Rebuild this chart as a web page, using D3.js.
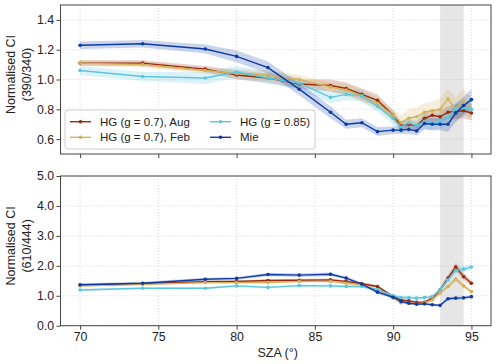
<!DOCTYPE html>
<html>
<head>
<meta charset="utf-8">
<script src="https://cdn.jsdelivr.net/npm/d3@7"></script>
<style>
  body { margin: 0; background: #fff; }
  svg { display: block; font-family: "Liberation Sans", Arial, sans-serif; }
</style>
</head>
<body>
<div class="chart"></div>
<script>
// solar zenith angles (deg)
const sza = [70,74,78,80,82,84,86,87,88,89,90,90.5,91,91.5,92,92.5,93,93.5,94,94.5,95]

// top panel: normalised CI 390/340
const augTop  = [1.11,1.11,1.07,1.03,1.01,0.97,0.96,0.94,0.90,0.86,0.76,0.69,0.70,0.69,0.74,0.76,0.75,0.78,0.785,0.79,0.775]
const febTop  = [1.11,1.10,1.06,1.04,1.03,1.00,0.95,0.93,0.89,0.84,0.76,0.71,0.74,0.75,0.78,0.79,0.80,0.87,0.80,0.86,0.80]
const hg85Top = [1.06,1.02,1.01,1.05,1.01,0.975,0.88,0.90,0.89,0.82,0.74,0.68,0.71,0.69,0.72,0.71,0.72,0.75,0.80,0.81,0.80]
const mieTop  = [1.23,1.24,1.205,1.155,1.08,0.935,0.78,0.70,0.71,0.65,0.66,0.66,0.665,0.655,0.705,0.70,0.70,0.70,0.775,0.825,0.865]
// half width of the shaded bands
const augTopSp  = [0.02,0.02,0.02,0.03,0.03,0.03,0.04,0.04,0.04,0.04,0.03,0.03,0.03,0.03,0.04,0.04,0.04,0.04,0.05,0.05,0.05]
const febTopSp  = [0.02,0.02,0.02,0.03,0.03,0.03,0.03,0.04,0.04,0.04,0.04,0.05,0.06,0.06,0.06,0.06,0.07,0.07,0.08,0.08,0.07]
const hg85TopSp = [0.03,0.03,0.04,0.04,0.04,0.04,0.04,0.04,0.04,0.04,0.04,0.04,0.04,0.04,0.05,0.05,0.05,0.05,0.05,0.05,0.05]
const mieTopSp  = [0.025,0.025,0.03,0.04,0.04,0.04,0.04,0.03,0.03,0.03,0.025,0.025,0.03,0.03,0.04,0.04,0.04,0.05,0.06,0.06,0.07]

// bottom panel: normalised CI 610/444
const augBot  = [1.35,1.40,1.47,1.48,1.51,1.52,1.53,1.48,1.40,1.31,0.97,0.86,0.83,0.78,0.78,0.92,1.20,1.59,1.96,1.64,1.42]
const febBot  = [1.33,1.38,1.44,1.44,1.44,1.48,1.48,1.42,1.37,1.20,0.92,0.77,0.75,0.73,0.76,0.86,1.09,1.31,1.56,1.33,1.14]
const hg85Bot = [1.19,1.25,1.25,1.33,1.28,1.34,1.33,1.31,1.31,1.20,1.00,0.94,0.94,0.92,0.94,0.97,1.20,1.53,1.85,1.89,1.96]
const mieBot  = [1.37,1.42,1.55,1.58,1.71,1.69,1.72,1.59,1.39,1.12,0.95,0.81,0.75,0.72,0.73,0.70,0.68,0.90,0.92,0.93,0.97]
const augBotSp  = [0.04,0.04,0.04,0.04,0.05,0.05,0.05,0.05,0.05,0.05,0.05,0.05,0.05,0.05,0.05,0.06,0.08,0.10,0.14,0.12,0.10]
const febBotSp  = [0.04,0.04,0.04,0.04,0.04,0.04,0.04,0.04,0.04,0.04,0.05,0.05,0.05,0.05,0.05,0.06,0.07,0.08,0.10,0.08,0.07]
const hg85BotSp = [0.04,0.04,0.04,0.04,0.04,0.04,0.05,0.05,0.05,0.05,0.05,0.05,0.05,0.05,0.05,0.06,0.07,0.09,0.10,0.10,0.11]
const mieBotSp  = [0.05,0.05,0.05,0.05,0.06,0.06,0.06,0.05,0.05,0.05,0.04,0.04,0.04,0.04,0.04,0.04,0.04,0.05,0.05,0.05,0.05]

const names  = ["HG (g = 0.7), Aug", "HG (g = 0.7), Feb", "HG (g = 0.85)", "Mie"]
const colors = ["#9a2a0c", "#d4b25a", "#5cc6de", "#0d3aa6"]

const topTicks = [0.6, 0.8, 1.0, 1.2, 1.4]
const botTicks = [0, 1, 2, 3, 4, 5]
const xTicks   = [70, 75, 80, 85, 90, 95]
const greySpan = [93, 94.5]

let w = 500
let h = 364
let left = 60.5, right = 491

let svg = d3.select(".chart")
  .append("svg")
  .attr("width", w)
  .attr("height", h)

const xScale = d3.scaleLinear().domain([68.75, 96.25]).range([left, right])

function panel(top, bottom, yDomain, yTicks, series, label2, showX) {
  const yScale = d3.scaleLinear().domain(yDomain).range([bottom, top])
  let g = svg.append("g")

  // dotted grid
  g.selectAll(".vgrid").data(xTicks).enter().append("line")
    .attr("x1", d => xScale(d)).attr("x2", d => xScale(d))
    .attr("y1", top).attr("y2", bottom)
    .attr("stroke", "#cfcfcf").attr("stroke-width", 0.8).attr("stroke-dasharray", "1,2")
  g.selectAll(".hgrid").data(yTicks).enter().append("line")
    .attr("x1", left).attr("x2", right)
    .attr("y1", d => yScale(d)).attr("y2", d => yScale(d))
    .attr("stroke", "#cfcfcf").attr("stroke-width", 0.8).attr("stroke-dasharray", "1,2")

  // grey span
  g.append("rect")
    .attr("x", xScale(greySpan[0])).attr("width", xScale(greySpan[1]) - xScale(greySpan[0]))
    .attr("y", top).attr("height", bottom - top)
    .attr("fill", "#808080").attr("opacity", 0.2)

  const area = d3.area()
    .x((d, i) => xScale(sza[i]))
    .y0(d => yScale(d[0] - d[1]))
    .y1(d => yScale(d[0] + d[1]))
  const line = d3.line()
    .x((d, i) => xScale(sza[i]))
    .y(d => yScale(d))

  series.forEach((s, k) => {
    g.append("path")
      .datum(s.vals.map((v, i) => [v, s.sp[i]]))
      .attr("d", area)
      .attr("fill", colors[k]).attr("opacity", 0.22)
  })
  series.forEach((s, k) => {
    g.append("path")
      .datum(s.vals)
      .attr("d", line)
      .attr("fill", "none").attr("stroke", colors[k]).attr("stroke-width", 1.4)
    g.selectAll(".dot" + k).data(s.vals).enter().append("circle")
      .attr("cx", (d, i) => xScale(sza[i]))
      .attr("cy", d => yScale(d))
      .attr("r", 1.8)
      .attr("fill", colors[k])
  })

  // axes
  const yAxis = d3.axisLeft(yScale).tickValues(yTicks).tickFormat(d3.format(".1f"))
    .tickSize(4).tickSizeOuter(0).tickPadding(2.5)
  let ya = g.append("g").attr("transform", "translate(" + left + ",0)").call(yAxis)
  const xAxis = d3.axisBottom(xScale).tickValues(xTicks).tickSize(4).tickSizeOuter(0).tickPadding(3)
  if (!showX) xAxis.tickFormat("")
  let xa = g.append("g").attr("transform", "translate(0," + bottom + ")").call(xAxis)
  ;[ya, xa].forEach(a => {
    a.select(".domain").remove()
    a.selectAll("line").attr("stroke", "#444")
    a.selectAll("text").attr("fill", "#222").style("font-size", "12.3px")
      .style("font-family", "'Liberation Sans', Arial, sans-serif")
  })

  // frame
  g.append("rect")
    .attr("x", left).attr("y", top).attr("width", right - left).attr("height", bottom - top)
    .attr("fill", "none").attr("stroke", "#444").attr("stroke-width", 1)

  // y label
  let cy = (top + bottom) / 2 - 5
  g.append("text")
    .attr("transform", "translate(15," + cy + ") rotate(-90)")
    .attr("text-anchor", "middle")
    .style("font-size", "12.5px").attr("fill", "#222")
    .text("Normalised CI")
  g.append("text")
    .attr("transform", "translate(30.5," + cy + ") rotate(-90)")
    .attr("text-anchor", "middle")
    .style("font-size", "12.5px").attr("fill", "#222")
    .text(label2)
}

panel(5, 154, [0.5, 1.5], topTicks, [
  {vals: augTop, sp: augTopSp}, {vals: febTop, sp: febTopSp},
  {vals: hg85Top, sp: hg85TopSp}, {vals: mieTop, sp: mieTopSp}
], "(390/340)", false)

panel(176, 325.7, [0, 5], botTicks, [
  {vals: augBot, sp: augBotSp}, {vals: febBot, sp: febBotSp},
  {vals: hg85Bot, sp: hg85BotSp}, {vals: mieBot, sp: mieBotSp}
], "(610/444)", true)

svg.append("text")
  .attr("x", (left + right) / 2 + 2).attr("y", 357)
  .attr("text-anchor", "middle")
  .style("font-size", "12.5px").attr("fill", "#222")
  .text("SZA (\u00b0)")

// legend
let legend = svg.append("g").attr("id", "legend")
legend.append("rect")
  .attr("x", 65).attr("y", 110).attr("width", 250).attr("height", 39).attr("rx", 3)
  .attr("fill", "white").attr("fill-opacity", 0.8).attr("stroke", "#d0d0d0")
const legX = [70, 210]
const legY = [121.7, 137.3]
names.forEach((n, i) => {
  let col = Math.floor(i / 2), row = i % 2
  let x0 = legX[col], y0 = legY[row]
  legend.append("line")
    .attr("x1", x0).attr("x2", x0 + 21).attr("y1", y0).attr("y2", y0)
    .attr("stroke", colors[i]).attr("stroke-width", 1.4)
  legend.append("circle").attr("cx", x0 + 10.5).attr("cy", y0).attr("r", 1.8).attr("fill", colors[i])
  legend.append("text")
    .attr("x", x0 + 30).attr("y", y0).attr("dy", "0.35em")
    .style("font-size", "11.5px").attr("fill", "#222")
    .text(n)
})
</script>
</body>
</html>
